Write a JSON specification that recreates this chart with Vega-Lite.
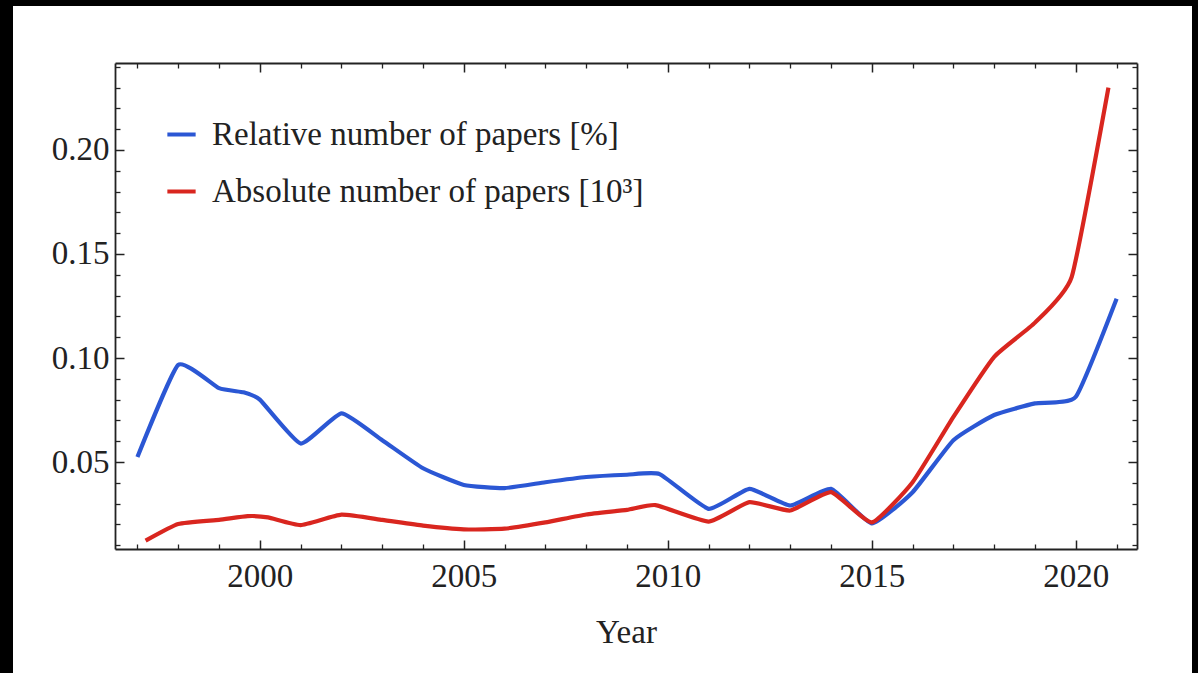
{
  "$schema": "https://vega.github.io/schema/vega-lite/v6.json",
  "width": 1179,
  "height": 667,
  "autosize": {"type": "none"},
  "padding": {"left": 13, "top": 6, "right": 6, "bottom": 0},
  "background": "#000000",
  "config": {
    "view": {"fill": "#ffffff", "stroke": null},
    "axis": {
      "grid": false,
      "labelFont": "Liberation Serif",
      "labelFontSize": 33,
      "labelColor": "#222222",
      "titleFont": "Liberation Serif",
      "titleFontSize": 33,
      "titleFontWeight": "normal",
      "titleColor": "#222222",
      "tickColor": "#222222",
      "domainColor": "#222222",
      "domainWidth": 1.8,
      "labelFlush": false,
      "labelOverlap": false
    }
  },
  "data": {
    "values": [
      {"year": 1997, "value": 0.0524, "series": "Relative number of papers [%]"},
      {"year": 1998, "value": 0.0967, "series": "Relative number of papers [%]"},
      {"year": 1999, "value": 0.0855, "series": "Relative number of papers [%]"},
      {"year": 1999.6, "value": 0.0835, "series": "Relative number of papers [%]"},
      {"year": 2000, "value": 0.0800, "series": "Relative number of papers [%]"},
      {"year": 2001, "value": 0.0589, "series": "Relative number of papers [%]"},
      {"year": 2002, "value": 0.0734, "series": "Relative number of papers [%]"},
      {"year": 2003, "value": 0.0605, "series": "Relative number of papers [%]"},
      {"year": 2004, "value": 0.0470, "series": "Relative number of papers [%]"},
      {"year": 2005, "value": 0.0390, "series": "Relative number of papers [%]"},
      {"year": 2006, "value": 0.0375, "series": "Relative number of papers [%]"},
      {"year": 2007, "value": 0.0403, "series": "Relative number of papers [%]"},
      {"year": 2008, "value": 0.0428, "series": "Relative number of papers [%]"},
      {"year": 2009, "value": 0.0439, "series": "Relative number of papers [%]"},
      {"year": 2009.8, "value": 0.0442, "series": "Relative number of papers [%]"},
      {"year": 2011, "value": 0.0275, "series": "Relative number of papers [%]"},
      {"year": 2012, "value": 0.0371, "series": "Relative number of papers [%]"},
      {"year": 2013, "value": 0.0291, "series": "Relative number of papers [%]"},
      {"year": 2014, "value": 0.0371, "series": "Relative number of papers [%]"},
      {"year": 2015, "value": 0.0205, "series": "Relative number of papers [%]"},
      {"year": 2016, "value": 0.0355, "series": "Relative number of papers [%]"},
      {"year": 2017, "value": 0.0605, "series": "Relative number of papers [%]"},
      {"year": 2018, "value": 0.0726, "series": "Relative number of papers [%]"},
      {"year": 2019, "value": 0.0782, "series": "Relative number of papers [%]"},
      {"year": 2020, "value": 0.0814, "series": "Relative number of papers [%]"},
      {"year": 2021, "value": 0.1285, "series": "Relative number of papers [%]"},
      {"year": 1997.2, "value": 0.0122, "series": "Absolute number of papers [10³]"},
      {"year": 1998, "value": 0.0202, "series": "Absolute number of papers [10³]"},
      {"year": 1999, "value": 0.0222, "series": "Absolute number of papers [10³]"},
      {"year": 1999.7, "value": 0.0240, "series": "Absolute number of papers [10³]"},
      {"year": 2000.2, "value": 0.0234, "series": "Absolute number of papers [10³]"},
      {"year": 2001, "value": 0.0197, "series": "Absolute number of papers [10³]"},
      {"year": 2002, "value": 0.0247, "series": "Absolute number of papers [10³]"},
      {"year": 2003, "value": 0.0222, "series": "Absolute number of papers [10³]"},
      {"year": 2004, "value": 0.0194, "series": "Absolute number of papers [10³]"},
      {"year": 2005, "value": 0.0176, "series": "Absolute number of papers [10³]"},
      {"year": 2006, "value": 0.0180, "series": "Absolute number of papers [10³]"},
      {"year": 2007, "value": 0.0210, "series": "Absolute number of papers [10³]"},
      {"year": 2008, "value": 0.0248, "series": "Absolute number of papers [10³]"},
      {"year": 2009, "value": 0.0270, "series": "Absolute number of papers [10³]"},
      {"year": 2009.7, "value": 0.0293, "series": "Absolute number of papers [10³]"},
      {"year": 2011, "value": 0.0214, "series": "Absolute number of papers [10³]"},
      {"year": 2012, "value": 0.0307, "series": "Absolute number of papers [10³]"},
      {"year": 2013, "value": 0.0267, "series": "Absolute number of papers [10³]"},
      {"year": 2014, "value": 0.0355, "series": "Absolute number of papers [10³]"},
      {"year": 2015, "value": 0.0210, "series": "Absolute number of papers [10³]"},
      {"year": 2016, "value": 0.0403, "series": "Absolute number of papers [10³]"},
      {"year": 2017, "value": 0.0717, "series": "Absolute number of papers [10³]"},
      {"year": 2018, "value": 0.1006, "series": "Absolute number of papers [10³]"},
      {"year": 2019, "value": 0.1170, "series": "Absolute number of papers [10³]"},
      {"year": 2019.9, "value": 0.1390, "series": "Absolute number of papers [10³]"},
      {"year": 2020.8, "value": 0.2300, "series": "Absolute number of papers [10³]"}
    ]
  },
  "layer": [
    {
      "mark": {"type": "line", "strokeWidth": 4.2, "interpolate": "cardinal", "tension": 0.55, "strokeJoin": "round", "strokeCap": "butt"},
      "encoding": {
        "x": {
          "field": "year", "type": "quantitative",
          "scale": {"domain": [1996.45, 2021.5], "range": [102, 1124], "nice": false, "zero": false},
          "axis": {"orient": "bottom", "offset": -124, "values": [2000, 2005, 2010, 2015, 2020], "format": "d", "tickSize": -9, "tickWidth": 1.5, "labelPadding": 20, "title": "Year", "titlePadding": 23, "domain": true}
        },
        "y": {
          "field": "value", "type": "quantitative",
          "scale": {"domain": [0.0082, 0.2418], "range": [543, 57], "nice": false, "zero": false},
          "axis": {"orient": "left", "offset": -102, "values": [0.05, 0.1, 0.15, 0.2], "format": ".2f", "tickSize": -9, "tickWidth": 1.5, "labelPadding": 15, "title": null, "domain": true}
        },
        "color": {
          "field": "series", "type": "nominal",
          "scale": {"domain": ["Relative number of papers [%]", "Absolute number of papers [10³]"], "range": ["#2b57d4", "#d9261f"]},
          "legend": {
            "orient": "none", "legendX": 152, "legendY": 112, "title": null, "padding": 0,
            "symbolType": "stroke", "symbolSize": 800, "symbolStrokeWidth": 4,
            "labelFont": "Liberation Serif", "labelFontSize": 33, "labelColor": "#222222",
            "labelOffset": 14, "rowPadding": 23, "labelLimit": 600
          }
        }
      }
    },
    {
      "mark": {"type": "point", "opacity": 0},
      "encoding": {
        "x": {"field": "year", "type": "quantitative", "axis": {"orient": "top", "offset": -57, "values": [2000, 2005, 2010, 2015, 2020], "labels": false, "tickSize": -9, "tickWidth": 1.5, "title": null, "domain": true}},
        "y": {"field": "value", "type": "quantitative", "axis": {"orient": "right", "offset": -55, "values": [0.05, 0.1, 0.15, 0.2], "labels": false, "tickSize": -9, "tickWidth": 1.5, "title": null, "domain": true}}
      }
    },
    {
      "mark": {"type": "point", "opacity": 0},
      "encoding": {
        "x": {"field": "year", "type": "quantitative", "axis": {"orient": "bottom", "offset": -124, "values": [1997, 1998, 1999, 2001, 2002, 2003, 2004, 2006, 2007, 2008, 2009, 2011, 2012, 2013, 2014, 2016, 2017, 2018, 2019, 2021], "labels": false, "tickSize": -5, "tickWidth": 1.3, "title": null, "domain": false}},
        "y": {"field": "value", "type": "quantitative", "axis": {"orient": "left", "offset": -102, "values": [0.01, 0.02, 0.03, 0.04, 0.06, 0.07, 0.08, 0.09, 0.11, 0.12, 0.13, 0.14, 0.16, 0.17, 0.18, 0.19, 0.21, 0.22, 0.23, 0.24], "labels": false, "tickSize": -5, "tickWidth": 1.3, "title": null, "domain": false}}
      }
    },
    {
      "mark": {"type": "point", "opacity": 0},
      "encoding": {
        "x": {"field": "year", "type": "quantitative", "axis": {"orient": "top", "offset": -57, "values": [1997, 1998, 1999, 2001, 2002, 2003, 2004, 2006, 2007, 2008, 2009, 2011, 2012, 2013, 2014, 2016, 2017, 2018, 2019, 2021], "labels": false, "tickSize": -5, "tickWidth": 1.3, "title": null, "domain": false}},
        "y": {"field": "value", "type": "quantitative", "axis": {"orient": "right", "offset": -55, "values": [0.01, 0.02, 0.03, 0.04, 0.06, 0.07, 0.08, 0.09, 0.11, 0.12, 0.13, 0.14, 0.16, 0.17, 0.18, 0.19, 0.21, 0.22, 0.23, 0.24], "labels": false, "tickSize": -5, "tickWidth": 1.3, "title": null, "domain": false}}
      }
    }
  ],
  "resolve": {"axis": {"x": "independent", "y": "independent"}}
}
